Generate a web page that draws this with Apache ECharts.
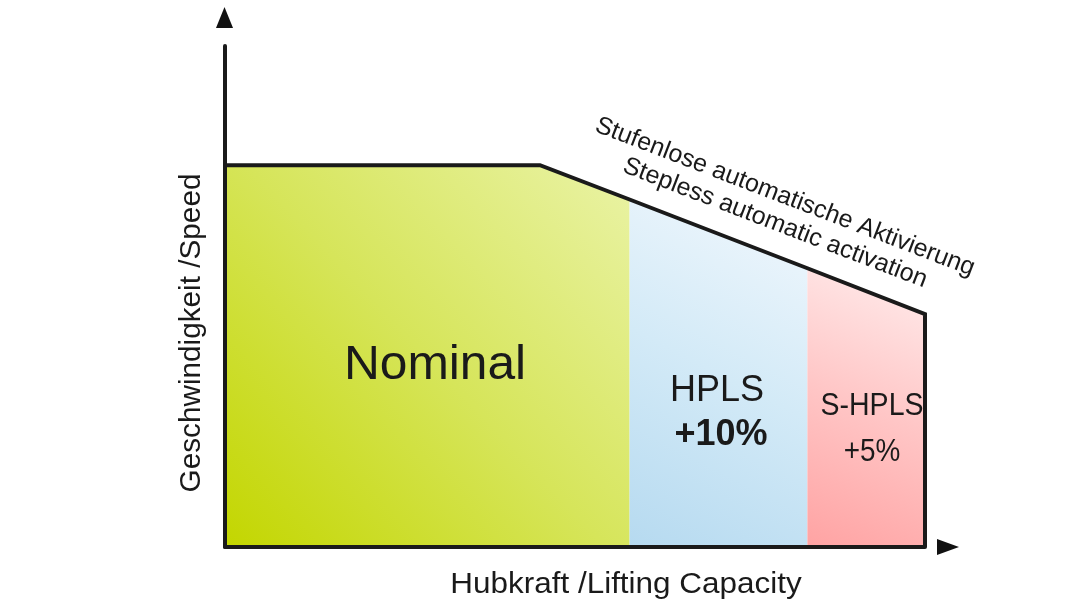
<!DOCTYPE html>
<html>
<head>
<meta charset="utf-8">
<script src="https://cdn.jsdelivr.net/npm/echarts@6/dist/echarts.min.js"></script>
<style>
html,body{margin:0;padding:0;background:#ffffff;}
#chart{width:1076px;height:605px;}
</style>
</head>
<body>
<div id="chart"></div>
<script>
// Lifting capacity breakpoints (0..100 = full capacity) and speed at each breakpoint
const capacity = [0, 45, 57.8, 83.2, 100];
const speed = [100, 100, 91, 73, 61];
const regionNames = ['Nominal', 'HPLS', 'S-HPLS'];
const regionGain = ['', '+10%', '+5%'];
const regionRange = [[0, 2], [2, 3], [3, 4]]; // index ranges into capacity/speed
const axisTitles = ['Hubkraft /Lifting Capacity', 'Geschwindigkeit /Speed'];
const noteLines = ['Stufenlose automatische Aktivierung', 'Stepless automatic activation'];

const FONT = '"Liberation Sans", Arial, sans-serif';
const INK = '#1a1a1a';

function grad(c0, c1, c2) {
  return new echarts.graphic.LinearGradient(0, 1, 1, 0, [
    {offset: 0, color: c0}, {offset: 0.5, color: c1}, {offset: 1, color: c2}
  ]);
}
const fills = [
  grad('#c3d600', '#d6e55a', '#eaf3a6'),
  grad('#b6daf0', '#d3eaf7', '#f2f8fd'),
  grad('#ffa3a3', '#ffc6c6', '#ffeded')
];

const series = regionRange.map((r, i) => {
  const pts = [];
  for (let k = r[0]; k <= r[1]; k++) pts.push([capacity[k], speed[k]]);
  return {
    type: 'line', name: regionNames[i], data: pts, showSymbol: false,
    lineStyle: {width: 0}, areaStyle: {color: fills[i], opacity: 1},
    silent: true, z: 2, clip: false, animation: false
  };
});
const outline = capacity.map((c, k) => [c, speed[k]]);
outline.push([capacity[capacity.length - 1], 0]);
series.push({
  type: 'line', name: 'outline', data: outline, showSymbol: false,
  lineStyle: {width: 4, color: INK, join: 'miter'}, z: 4, clip: false, animation: false
});

function label(text, x, y, size, opts) {
  opts = opts || {};
  return {
    type: 'text', z: 10, x: x, y: y,
    rotation: opts.rotation || 0, scaleX: opts.scaleX || 1,
    style: {
      text: text, font: (opts.weight || 'normal') + ' ' + size + 'px ' + FONT,
      lineHeight: opts.lineHeight, fill: INK, align: 'center', verticalAlign: 'middle'
    }
  };
}

const chart = echarts.init(document.getElementById('chart'), null, {renderer: 'canvas'});
chart.setOption({
  backgroundColor: '#ffffff',
  animation: false,
  grid: {left: 225, right: 151, top: 46, bottom: 58},
  xAxis: {
    type: 'value', min: 0, max: 100, z: 5,
    axisLine: {show: true, lineStyle: {color: INK, width: 4}},
    axisTick: {show: false}, axisLabel: {show: false}, splitLine: {show: false}
  },
  yAxis: {
    type: 'value', min: 0, max: 131.2, z: 5,
    axisLine: {show: true, lineStyle: {color: INK, width: 4}},
    axisTick: {show: false}, axisLabel: {show: false}, splitLine: {show: false}
  },
  series: series,
  graphic: [
    {type: 'polygon', z: 10, shape: {points: [[216, 28], [233, 28], [224.5, 7]]}, style: {fill: '#111'}},
    {type: 'polygon', z: 10, shape: {points: [[937, 539], [937, 555], [959, 547]]}, style: {fill: '#111'}},
    label(regionNames[0], 435, 366, 48, {scaleX: 1.035}),
    label(regionNames[1], 717, 391, 36),
    label(regionGain[1], 721, 435, 36, {weight: 'bold'}),
    label(regionNames[2], 872, 406, 31, {scaleX: 0.92}),
    label(regionGain[2], 872, 452, 31, {scaleX: 0.9}),
    label(axisTitles[0], 626, 585, 29, {scaleX: 1.085}),
    label(axisTitles[1], 192, 333, 29, {rotation: Math.PI / 2, scaleX: 1.025}),
    label(noteLines.join('\n'), 780, 210, 25, {rotation: -21 * Math.PI / 180, lineHeight: 28})
  ]
});
</script>
</body>
</html>
